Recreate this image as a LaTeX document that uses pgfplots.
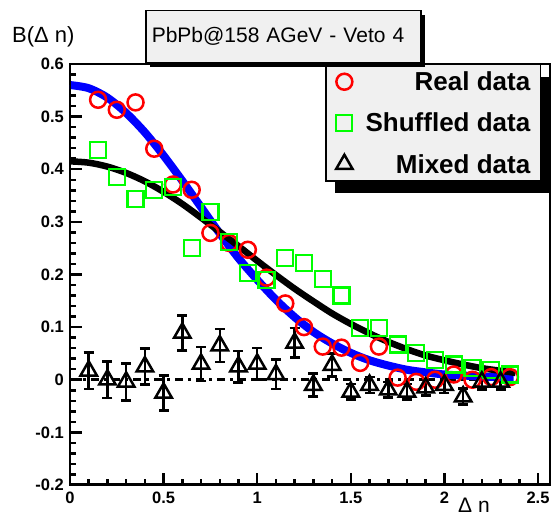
\documentclass[border=0pt]{standalone}
\usepackage{pgfplots}
\pgfplotsset{compat=1.18}
\usepackage{fontspec}
\setmainfont{Liberation Sans}
\usetikzlibrary{shadows}
\definecolor{boxgray}{RGB}{240,240,240}
\definecolor{rred}{RGB}{255,0,0}
\definecolor{rgreen}{RGB}{0,255,0}
\definecolor{rblue}{RGB}{0,0,255}

\begin{document}
\begin{tikzpicture}
\path[use as bounding box] (-70pt,-33pt) rectangle (484pt,485pt);
\begin{axis}[
    at={(0pt,0pt)}, anchor=south west,
    scale only axis, width=480pt, height=421pt,
    xmin=0, xmax=2.564, ymin=-0.2, ymax=0.6,
    xtick={0,0.5,1,1.5,2,2.5},
    ytick={-0.2,-0.1,0,0.1,0.2,0.3,0.4,0.5,0.6},
    minor x tick num=4, minor y tick num=4,
    tick align=inside, tick pos=left,
    major tick length=12pt, minor tick length=6pt,
    every tick/.style={black, line width=2.5pt},
    axis line style={line width=1.5pt},
    tick label style={font=\fontsize{16.5}{18}\selectfont\bfseries, inner sep=0pt},
    /pgf/number format/assume math mode=true,
    yticklabel style={xshift=-6pt},
    xticklabel style={yshift=-7pt},
    legend cell align=right,
    legend style={at={(0.9813,1)}, anchor=north east,
                  fill=boxgray, draw=black, line width=1.5pt,
                  inner xsep=10pt, inner ysep=8pt,
                  row sep=23pt, column sep=13pt,
                  font=\fontsize{26}{26}\selectfont\bfseries,
                  nodes={inner sep=0pt, text height=18pt, text depth=0pt},
                  drop shadow={shadow xshift=9pt, shadow yshift=-12pt,
                               fill=black, opacity=1}},
  ]

% real data
\addplot[only marks, mark=o, rred, mark size=8pt, line width=2.5pt] coordinates {
  (0.15,0.532) (0.25,0.513) (0.35,0.527) (0.45,0.439) (0.55,0.371)
  (0.65,0.361) (0.75,0.279) (0.85,0.260) (0.95,0.247) (1.05,0.194)
  (1.15,0.145) (1.25,0.100) (1.35,0.063) (1.45,0.061) (1.55,0.032)
  (1.65,0.063) (1.75,0.004) (1.85,-0.004) (1.95,0.000) (2.05,0.010)
  (2.15,0.000) (2.25,0.005) (2.35,0.005)};
\addlegendentry{Real data}

% shuffled data
\addplot[only marks, mark=square, rgreen, mark size=8pt, line width=2.2pt] coordinates {
  (0.15,0.437) (0.25,0.386) (0.35,0.344) (0.45,0.361) (0.55,0.367)
  (0.65,0.251) (0.75,0.319) (0.85,0.262) (0.95,0.203) (1.05,0.190)
  (1.15,0.232) (1.25,0.222) (1.35,0.192) (1.45,0.160) (1.55,0.099)
  (1.65,0.099) (1.75,0.067) (1.85,0.051) (1.95,0.038) (2.05,0.029)
  (2.15,0.023) (2.25,0.019) (2.35,0.010)};
\addlegendentry{Shuffled data}

% mixed data
\addplot[only marks, mark=triangle, black, mark size=9.5pt, line width=2.5pt,
         error bars/.cd, y dir=both, y explicit,
         error bar style={line width=2.5pt},
         error mark options={rotate=90, mark size=5pt, line width=2.5pt}] coordinates {
  (0.1,0.017)  +- (0,0.035)
  (0.2,0.000)  +- (0,0.035)
  (0.3,-0.004) +- (0,0.035)
  (0.4,0.025)  +- (0,0.034)
  (0.5,-0.025) +- (0,0.033)
  (0.6,0.089)  +- (0,0.033)
  (0.7,0.030)  +- (0,0.032)
  (0.8,0.065)  +- (0,0.031)
  (0.9,0.025)  +- (0,0.030)
  (1.0,0.030)  +- (0,0.030)
  (1.1,0.010)  +- (0,0.028)
  (1.2,0.070)  +- (0,0.028)
  (1.3,-0.010) +- (0,0.022)
  (1.4,0.028)  +- (0,0.022)
  (1.5,-0.023) +- (0,0.015)
  (1.6,-0.010) +- (0,0.015)
  (1.7,-0.019) +- (0,0.015)
  (1.8,-0.023) +- (0,0.015)
  (1.9,-0.015) +- (0,0.015)
  (2.0,-0.010) +- (0,0.015)
  (2.1,-0.032) +- (0,0.015)
  (2.2,-0.004) +- (0,0.015)
  (2.3,-0.004) +- (0,0.015)};
\addlegendentry{Mixed data}

% zero line
\addplot[black, line width=3.5pt, dash pattern=on 8pt off 5pt on 3pt off 5pt, forget plot]
  coordinates {(0,0) (2.35,0)};

% fit to real data
\addplot[rblue, line width=8pt, smooth, forget plot] coordinates {
  (0,0.560) (0.1,0.554) (0.2,0.536) (0.3,0.507) (0.4,0.470) (0.5,0.426)
  (0.6,0.378) (0.7,0.328) (0.8,0.278) (0.9,0.231) (1.0,0.190) (1.1,0.152)
  (1.2,0.119) (1.3,0.091) (1.4,0.069) (1.5,0.051) (1.6,0.037) (1.7,0.027)
  (1.8,0.019) (1.9,0.014) (2.0,0.010) (2.1,0.008) (2.2,0.006) (2.3,0.005)
  (2.37,0.005)};

% fit to shuffled data
\addplot[black, line width=6.5pt, smooth, forget plot] coordinates {
  (0,0.415) (0.1,0.4125) (0.2,0.405) (0.3,0.393) (0.4,0.377) (0.5,0.357)
  (0.6,0.334) (0.7,0.308) (0.8,0.281) (0.9,0.254) (1.0,0.226) (1.1,0.199)
  (1.2,0.173) (1.3,0.149) (1.4,0.126) (1.5,0.106) (1.6,0.088) (1.7,0.072)
  (1.8,0.058) (1.9,0.046) (2.0,0.037) (2.1,0.029) (2.2,0.022) (2.3,0.017)
  (2.38,0.013)};

\draw[line width=3pt] (rel axis cs:0,1) -- (rel axis cs:0,0) -- (rel axis cs:1,0);
\end{axis}

\node[draw=black, line width=1.5pt, fill=boxgray,
      drop shadow={shadow xshift=4pt, shadow yshift=-4pt, fill=black, opacity=1},
      anchor=north west, minimum width=275pt, minimum height=52pt,
      inner xsep=6pt, text width=263pt, align=left,
      font=\fontsize{21}{21}\selectfont] at (75pt,475pt) {PbPb@158 AGeV - Veto 4};
\node[anchor=east, font=\fontsize{22}{22}\selectfont] at (8pt,448pt) {B(Δ n)};
\node[font=\fontsize{21}{21}\selectfont] at (404pt,-20pt) {Δ n};
\end{tikzpicture}
\end{document}
